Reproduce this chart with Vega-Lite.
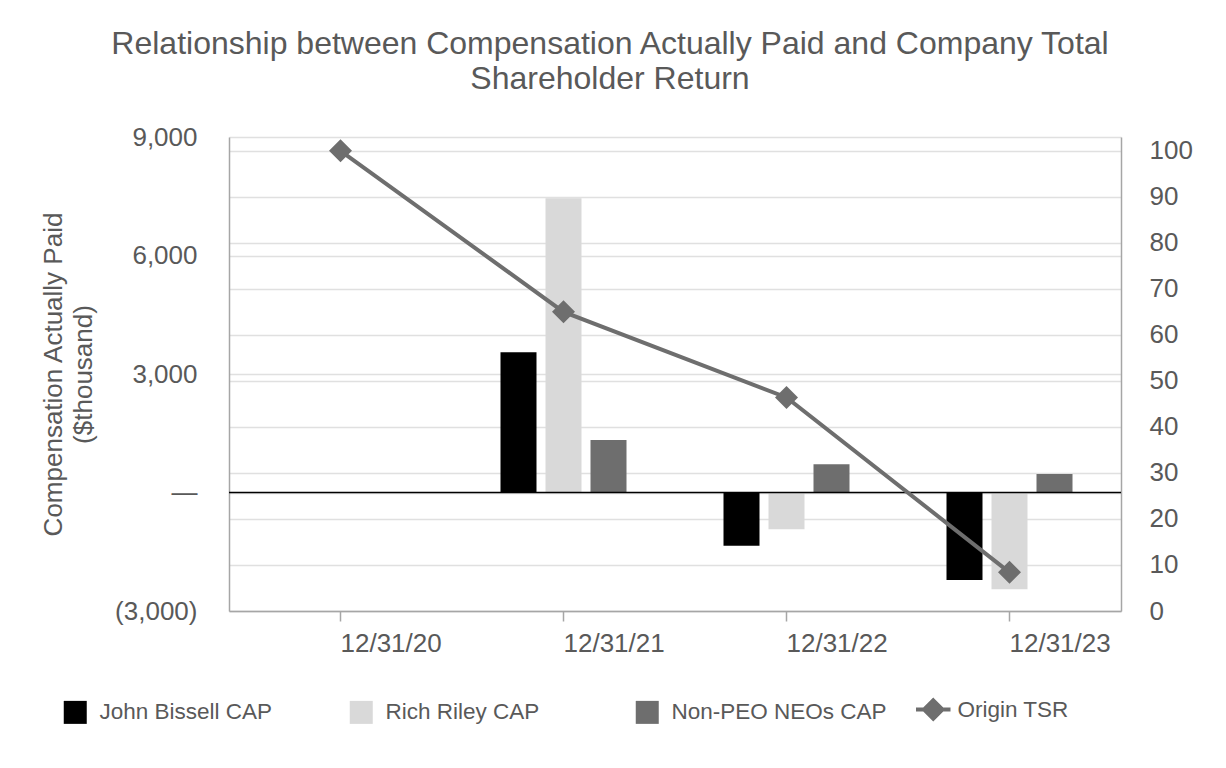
{
  "$schema": "https://vega.github.io/schema/vega-lite/v6.json",
  "autosize": "none",
  "width": 892,
  "height": 474,
  "padding": {"left": 229, "top": 137, "right": 105, "bottom": 157},
  "config": {
    "font": "Liberation Sans",
    "view": {"stroke": null},
    "axis": {"labelFont": "Liberation Sans", "titleFont": "Liberation Sans"}
  },
  "title": {
    "text": ["Relationship between Compensation Actually Paid and Company Total", "Shareholder Return"],
    "fontSize": 32,
    "fontWeight": "normal",
    "color": "#595959",
    "anchor": "middle",
    "frame": "group",
    "dx": -65,
    "offset": 28,
    "lineHeight": 35
  },
  "datasets": {
    "cap": [
      {"date": "12/31/21", "series": "John Bissell CAP", "value": 3550},
      {"date": "12/31/21", "series": "Rich Riley CAP", "value": 7450},
      {"date": "12/31/21", "series": "Non-PEO NEOs CAP", "value": 1330},
      {"date": "12/31/22", "series": "John Bissell CAP", "value": -1350},
      {"date": "12/31/22", "series": "Rich Riley CAP", "value": -930},
      {"date": "12/31/22", "series": "Non-PEO NEOs CAP", "value": 715},
      {"date": "12/31/23", "series": "John Bissell CAP", "value": -2215},
      {"date": "12/31/23", "series": "Rich Riley CAP", "value": -2450},
      {"date": "12/31/23", "series": "Non-PEO NEOs CAP", "value": 470}
    ],
    "tsr": [
      {"date": "12/31/20", "tsr": 100},
      {"date": "12/31/21", "tsr": 65},
      {"date": "12/31/22", "tsr": 46.4},
      {"date": "12/31/23", "tsr": 8.4}
    ],
    "zero": [{"v": 0}]
  },
  "layer": [
    {
      "layer": [
        {
          "data": {"name": "cap"},
          "mark": {"type": "bar"},
          "encoding": {
            "x": {
              "field": "date", "type": "nominal",
              "scale": {"domain": ["12/31/20", "12/31/21", "12/31/22", "12/31/23"], "paddingInner": 0.3946, "paddingOuter": 0.1973},
              "axis": {"title": null, "labelAngle": 0, "labelAlign": "left", "labelFontSize": 26, "labelColor": "#595959", "labelPadding": 9, "tickSize": 10, "tickColor": "#a6a6a6", "tickWidth": 1.5, "domainColor": "#a6a6a6", "domainWidth": 1.5, "grid": false}
            },
            "xOffset": {
              "field": "series", "type": "nominal",
              "sort": ["John Bissell CAP", "Rich Riley CAP", "Non-PEO NEOs CAP"],
              "scale": {"paddingInner": 0.2, "paddingOuter": 0.1}
            },
            "y": {
              "field": "value", "type": "quantitative",
              "scale": {"domain": [-3000, 9000], "nice": false, "zero": false},
              "axis": {
                "orient": "left",
                "values": [-3000, 0, 3000, 6000, 9000],
                "labelExpr": "datum.value == 0 ? '—' : (datum.value < 0 ? '(' + format(-datum.value, ',') + ')' : format(datum.value, ','))",
                "title": ["Compensation Actually Paid", "($thousand)"],
                "titleFontSize": 26, "titleFontWeight": "normal", "titleColor": "#595959", "titlePadding": 18, "titleLineHeight": 30,
                "labelFontSize": 26, "labelColor": "#595959", "labelPadding": 32,
                "ticks": false, "tickSize": 0,
                "domainColor": "#a6a6a6", "domainWidth": 1.5,
                "grid": true, "gridColor": "#e0e0e0", "gridWidth": 1.5
              }
            },
            "color": {
              "field": "series", "type": "nominal",
              "scale": {
                "domain": ["John Bissell CAP", "Rich Riley CAP", "Non-PEO NEOs CAP", "Origin TSR"],
                "range": ["#000000", "#d9d9d9", "#6e6e6e", "#6e6e6e"]
              },
              "legend": {
                "orient": "none", "legendX": -165, "legendY": 561,
                "direction": "horizontal", "columns": 4, "gridAlign": "all", "columnPadding": 21,
                "title": null, "padding": 0,
                "symbolSize": 529, "symbolType": "square",
                "labelFontSize": 22.5, "labelColor": "#595959", "labelOffset": 13, "labelLimit": 400,
                "encode": {
                  "symbols": {
                    "update": {
                      "shape": {"signal": "datum.value === 'Origin TSR' ? 'M-1.5,0L-0.6,0M0.6,0L1.5,0M0,-0.8L0.8,0L0,0.8L-0.8,0Z' : 'square'"},
                      "fill": {"scale": "color", "field": "value"},
                      "stroke": {"scale": "color", "field": "value"},
                      "strokeWidth": {"signal": "datum.value === 'Origin TSR' ? 4 : 0"},
                      "opacity": {"value": 1},
                      "fillOpacity": {"value": 1},
                      "strokeOpacity": {"value": 1}
                    }
                  }
                }
              }
            }
          }
        },
        {
          "data": {"name": "zero"},
          "mark": {"type": "rule", "color": "#000000", "strokeWidth": 1.5},
          "encoding": {
            "y": {
              "field": "v", "type": "quantitative",
              "axis": {
                "orient": "left",
                "values": [-3000, 0, 3000, 6000, 9000],
                "labelExpr": "datum.value == 0 ? '—' : (datum.value < 0 ? '(' + format(-datum.value, ',') + ')' : format(datum.value, ','))",
                "title": ["Compensation Actually Paid", "($thousand)"],
                "titleFontSize": 26, "titleFontWeight": "normal", "titleColor": "#595959", "titlePadding": 18, "titleLineHeight": 30,
                "labelFontSize": 26, "labelColor": "#595959", "labelPadding": 32,
                "ticks": false, "tickSize": 0,
                "domainColor": "#a6a6a6", "domainWidth": 1.5,
                "grid": true, "gridColor": "#e0e0e0", "gridWidth": 1.5
              }
            }
          }
        }
      ]
    },
    {
      "data": {"name": "tsr"},
      "mark": {"type": "line", "strokeWidth": 4, "point": {"shape": "diamond", "size": 529, "filled": true, "opacity": 1}},
      "encoding": {
        "x": {
          "field": "date", "type": "nominal",
          "scale": {"domain": ["12/31/20", "12/31/21", "12/31/22", "12/31/23"], "paddingInner": 0.3946, "paddingOuter": 0.1973},
          "axis": {"title": null, "labelAngle": 0, "labelAlign": "left", "labelFontSize": 26, "labelColor": "#595959", "labelPadding": 9, "tickSize": 10, "tickColor": "#a6a6a6", "tickWidth": 1.5, "domainColor": "#a6a6a6", "domainWidth": 1.5, "grid": false}
        },
        "y": {
          "field": "tsr", "type": "quantitative",
          "scale": {"domain": [0, 103], "nice": false, "zero": false},
          "axis": {
            "orient": "right",
            "values": [0, 10, 20, 30, 40, 50, 60, 70, 80, 90, 100],
            "title": null,
            "labelFontSize": 26, "labelColor": "#595959", "labelPadding": 28,
            "ticks": false, "tickSize": 0,
            "domainColor": "#a6a6a6", "domainWidth": 1.5,
            "grid": true, "gridColor": "#e0e0e0", "gridWidth": 1.5
          }
        },
        "color": {"datum": "Origin TSR"}
      }
    }
  ],
  "resolve": {"scale": {"y": "independent"}}
}
